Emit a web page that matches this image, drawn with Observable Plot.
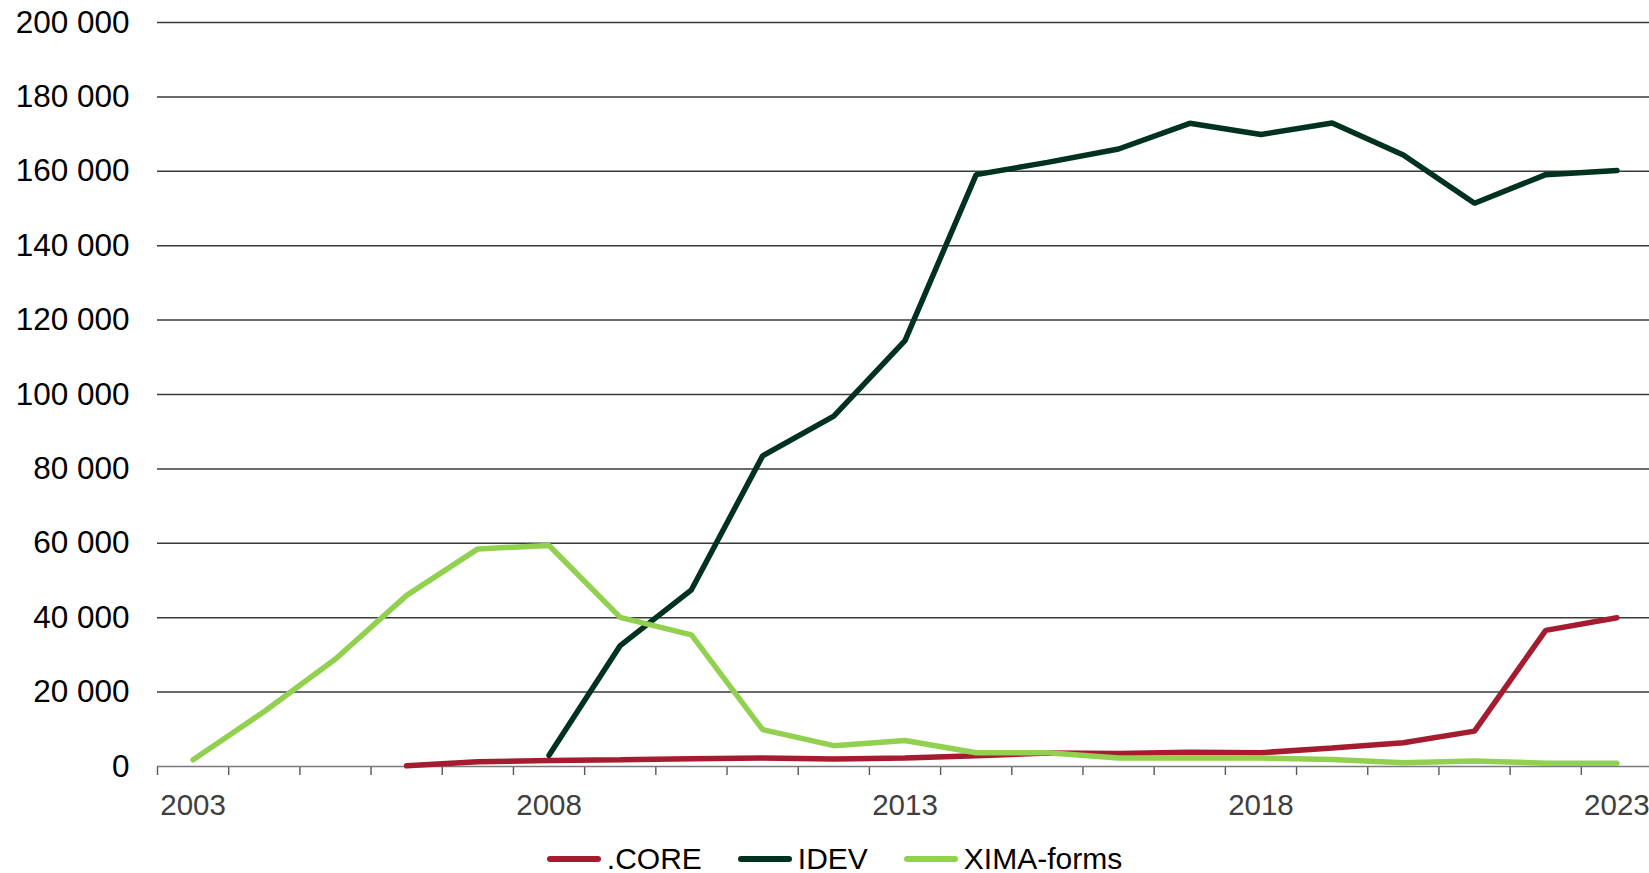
<!DOCTYPE html>
<html>
<head>
<meta charset="utf-8">
<script src="https://cdn.jsdelivr.net/npm/d3@7"></script>
<script src="https://cdn.jsdelivr.net/npm/@observablehq/plot@0.6"></script>
<style>
  html, body { margin: 0; padding: 0; background: #fff; }
  body { width: 1649px; height: 873px; overflow: hidden; font-family: "Liberation Sans", Arial, sans-serif; }
  #chart svg { display: block; }
  #legend { display: flex; justify-content: center; align-items: center; height: 30px; line-height: 30px; font-size: 30px; color: #000; padding-left: 20px; }
  .item { display: flex; align-items: center; margin: 0 18px; }
  .sw { width: 54px; height: 6px; border-radius: 3px; margin-right: 6px; }
</style>
</head>
<body>
<div id="chart"></div>
<div id="legend"></div>
<script>
const years = [2003,2004,2005,2006,2007,2008,2009,2010,2011,2012,2013,2014,2015,2016,2017,2018,2019,2020,2021,2022,2023];
const seriesNames = [".CORE", "IDEV", "XIMA-forms"];
const seriesColors = ["#A51C30", "#00321F", "#92D050"];
const coreValues = [null,null,null,200,1300,1600,1800,2100,2300,2000,2300,2900,3600,3500,3800,3700,5000,6400,9500,36600,40000];
const idevValues = [null,null,null,null,null,3000,32500,47500,83500,94200,114500,159100,162400,166000,172900,169900,173000,164400,151400,159100,160200];
const ximaValues = [1800,14800,28900,46000,58500,59400,40100,35400,9900,5600,7000,3700,3700,2300,2300,2300,1900,1000,1500,900,900];
const yTicks = [0,20000,40000,60000,80000,100000,120000,140000,160000,180000,200000];
const xLabelYears = [2003,2008,2013,2018,2023];

const valueLists = [coreValues, idevValues, ximaValues];
const data = [];
seriesNames.forEach((name, i) => {
  years.forEach((yr, j) => {
    const v = valueLists[i][j];
    if (v != null) data.push({series: name, year: yr, value: v});
  });
});
const boundaries = years.map(y => y - 0.5).concat([years[years.length - 1] + 0.5]);
const fmt = d => d3.format(",")(d).replace(/,/g, " ");

const chart = Plot.plot({
  width: 1649,
  height: 844,
  marginLeft: 157,
  marginRight: 0,
  marginTop: 22,
  marginBottom: 78,
  style: {fontFamily: '"Liberation Sans", Arial, sans-serif', fontSize: "30px", background: "#fff"},
  x: {domain: [years[0] - 0.5, years[years.length - 1] + 0.5], range: [157, 1652], label: null},
  y: {domain: [0, 200000], range: [766, 22], label: null},
  color: {domain: seriesNames, range: seriesColors},
  marks: [
    Plot.ruleY(yTicks.filter(d => d > 0), {stroke: "#3a3a3a", strokeWidth: 1.5, strokeOpacity: 1}),
    Plot.axisY(yTicks, {tickSize: 0, tickPadding: 28, tickFormat: fmt, fontSize: 31.5, fill: "#000", color: "#000", label: null}),
    Plot.axisX(boundaries, {tickSize: 9, tickFormat: () => "", stroke: "#595959", strokeWidth: 1.4, strokeOpacity: 1, label: null}),
    Plot.axisX(xLabelYears, {tickSize: 0, tickPadding: 28, tickFormat: d => String(d), fontSize: 29.5, fill: "#404040", color: "#404040", label: null}),
    Plot.ruleY([0], {stroke: "#7a7a7a", strokeWidth: 1.6}),
    Plot.line(data, {x: "year", y: "value", z: "series", stroke: "series", strokeWidth: 5.5, strokeLinejoin: "miter", strokeLinecap: "round"})
  ]
});
document.getElementById("chart").appendChild(chart);

const legend = document.getElementById("legend");
seriesNames.forEach((name, i) => {
  const item = document.createElement("div");
  item.className = "item";
  const sw = document.createElement("span");
  sw.className = "sw";
  sw.style.background = seriesColors[i];
  const label = document.createElement("span");
  label.textContent = name;
  item.appendChild(sw);
  item.appendChild(label);
  legend.appendChild(item);
});
</script>
</body>
</html>
